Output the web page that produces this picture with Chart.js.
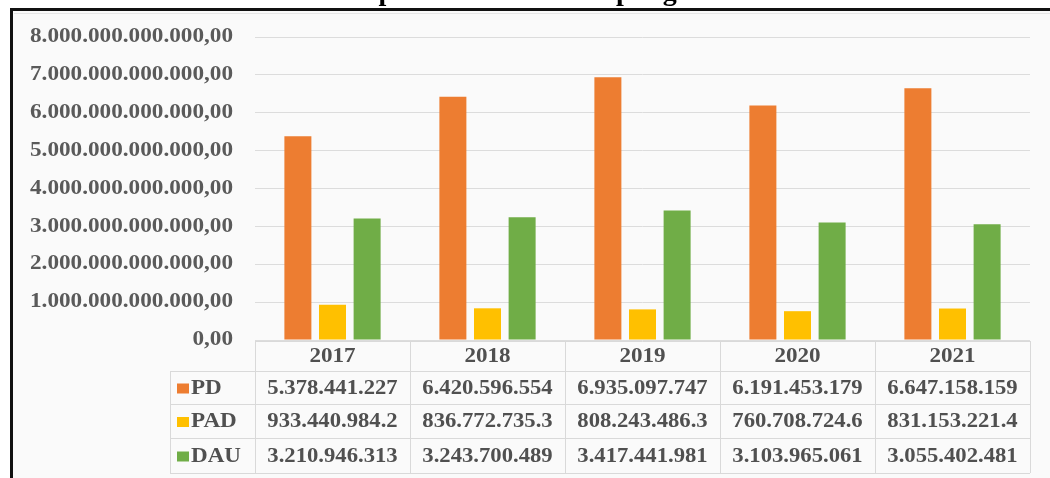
<!DOCTYPE html>
<html>
<head>
<meta charset="utf-8">
<script src="https://cdn.jsdelivr.net/npm/chart.js@4"></script>
<style>
  html, body { margin: 0; padding: 0; background: #fff; }
  #wrap { width: 1050px; height: 478px; position: relative; }
</style>
</head>
<body>
<div id="wrap"><canvas id="pendapatan"></canvas></div>
<script>
//// data
const years = ["2017", "2018", "2019", "2020", "2021"]
const seriesNames = ["PD", "PAD", "DAU"]
const seriesColors = ["#ED7D31", "#FFC000", "#70AD47"]

const pdValues = [5378441227000, 6420596554000, 6935097747000, 6191453179000, 6647158159000]
const padValues = [933440984200, 836772735300, 808243486300, 760708724600, 831153221400]
const dauValues = [3210946313000, 3243700489000, 3417441981000, 3103965061000, 3055402481000]

// text as printed in the data table under the chart
const pdText = ["5.378.441.227", "6.420.596.554", "6.935.097.747", "6.191.453.179", "6.647.158.159"]
const padText = ["933.440.984.2", "836.772.735.3", "808.243.486.3", "760.708.724.6", "831.153.221.4"]
const dauText = ["3.210.946.313", "3.243.700.489", "3.417.441.981", "3.103.965.061", "3.055.402.481"]

const yMax = 8000000000000
const yStep = 1000000000000
const titleText = "Data Total Pendapatan Provinsi Lampung Tahun 2017-2021"

//// helpers
function rupiah(v) {
    const s = Math.round(v).toString().replace(/\B(?=(\d{3})+(?!\d))/g, ".")
    return s + ",00"
}

const serif = "'Liberation Serif', 'DejaVu Serif', serif"

// the source picture is a bit wider than Times
function wideText(ctx, text, x, y, align, sx) {
    ctx.save()
    ctx.translate(x, y)
    ctx.scale(sx || 1.1, 1)
    ctx.textAlign = align
    ctx.fillText(text, 0, 0)
    ctx.restore()
}

// frame, clipped title and background
const framePlugin = {
    id: 'frame',
    beforeDraw(chart) {
        const ctx = chart.ctx
        ctx.save()
        ctx.fillStyle = '#ffffff'
        ctx.fillRect(0, 0, chart.width, chart.height)
        ctx.fillStyle = '#fafafa'
        ctx.fillRect(12, 10, chart.width - 12, chart.height - 10)
        // title, only its lower part shows above the frame
        ctx.fillStyle = '#000'
        ctx.font = "bold 28px " + serif
        ctx.textAlign = 'center'
        ctx.textBaseline = 'alphabetic'
        ctx.fillText(titleText, 530, 0)
        // dark frame lines
        ctx.strokeStyle = '#111'
        ctx.lineWidth = 3
        ctx.beginPath()
        ctx.moveTo(11.5, chart.height)
        ctx.lineTo(11.5, 9.5)
        ctx.lineTo(chart.width, 9.5)
        ctx.stroke()
        ctx.strokeStyle = '#e6e6e6'
        ctx.lineWidth = 1
        ctx.beginPath()
        ctx.moveTo(14, 13.5)
        ctx.lineTo(chart.width, 13.5)
        ctx.stroke()
        ctx.restore()
    }
}

// y tick labels and data table, drawn from the chart's scales
const tablePlugin = {
    id: 'dataTable',
    afterDraw(chart) {
        const ctx = chart.ctx
        const x = chart.scales.x
        const y = chart.scales.y
        const area = chart.chartArea
        const colW = (area.right - area.left) / years.length
        const top = area.bottom + 1
        const rowTops = [top, top + 30, top + 63, top + 97, top + 132]
        const legendLeft = 170
        const rowTexts = [pdText, padText, dauText]

        ctx.save()
        // y axis labels
        ctx.fillStyle = '#5a5a5a'
        ctx.font = "bold 20px " + serif
        ctx.textBaseline = 'middle'
        y.ticks.forEach(t => {
            wideText(ctx, rupiah(t.value), area.left - 22, y.getPixelForValue(t.value), 'right', 1.16)
        })

        ctx.strokeStyle = '#d9d9d9'
        ctx.lineWidth = 1
        ctx.beginPath()
        // horizontal lines
        ctx.moveTo(area.left, rowTops[0] + 0.5)
        ctx.lineTo(area.right, rowTops[0] + 0.5)
        for (let r = 1; r < rowTops.length; r++) {
            ctx.moveTo(legendLeft, rowTops[r] + 0.5)
            ctx.lineTo(area.right, rowTops[r] + 0.5)
        }
        // vertical lines
        for (let c = 0; c <= years.length; c++) {
            const px = Math.round(area.left + c * colW) + 0.5
            ctx.moveTo(px, rowTops[0])
            ctx.lineTo(px, rowTops[4])
        }
        ctx.moveTo(legendLeft + 0.5, rowTops[1])
        ctx.lineTo(legendLeft + 0.5, rowTops[4])
        ctx.stroke()

        ctx.fillStyle = '#505050'
        ctx.font = "bold 21px " + serif
        years.forEach((yr, i) => {
            wideText(ctx, yr, x.getPixelForValue(i), (rowTops[0] + rowTops[1]) / 2 + 1, 'center', 1.1)
        })
        ctx.font = "bold 21px " + serif
        rowTexts.forEach((arr, r) => {
            const cy = (rowTops[r + 1] + rowTops[r + 2]) / 2 + 1
            arr.forEach((t, i) => {
                wideText(ctx, t, x.getPixelForValue(i), cy, 'center', 1.08)
            })
            // legend key
            ctx.fillStyle = seriesColors[r]
            ctx.fillRect(177, cy - 5, 12, 10)
            ctx.fillStyle = '#505050'
            wideText(ctx, seriesNames[r], 191, cy, 'left', 1.1)
        })
        ctx.restore()
    }
}

//// chart
const chartElement = document.querySelector("#pendapatan")

let pendapatanChart = new Chart(chartElement, {
    type: 'bar',
    data: {
        labels: years,
        datasets: [
            { label: seriesNames[0], data: pdValues, backgroundColor: seriesColors[0] },
            { label: seriesNames[1], data: padValues, backgroundColor: seriesColors[1] },
            { label: seriesNames[2], data: dauValues, backgroundColor: seriesColors[2] }
        ]
    },
    options: {
        responsive: true,
        maintainAspectRatio: false,
        animation: false,
        datasets: {
            bar: {
                categoryPercentage: 0.67,
                barPercentage: 0.78
            }
        },
        layout: {
            padding: { top: 37, bottom: 138, right: 20, left: 0 }
        },
        scales: {
            x: {
                display: false
            },
            y: {
                min: 0,
                max: yMax,
                border: { display: false },
                grid: {
                    color: '#dcdcdc',
                    drawTicks: false
                },
                afterFit(scale) {
                    scale.width = 255
                },
                ticks: {
                    stepSize: yStep,
                    // labels are drawn by the table plugin, stretched like the source
                    display: false
                }
            }
        },
        plugins: {
            legend: { display: false },
            tooltip: { enabled: false }
        }
    },
    plugins: [framePlugin, tablePlugin]
});

pendapatanChart.update()
</script>
</body>
</html>
